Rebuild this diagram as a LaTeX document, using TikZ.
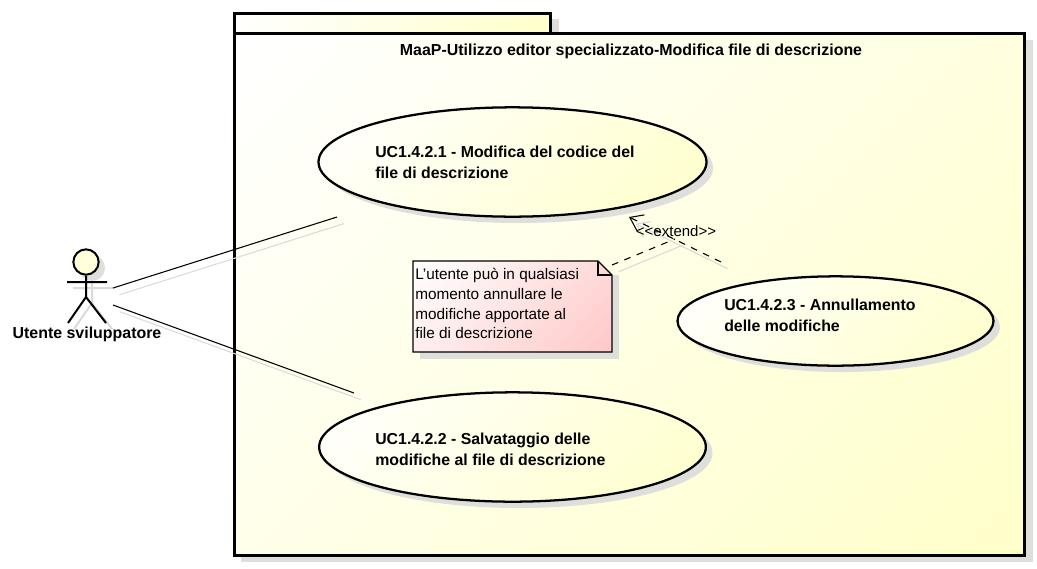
\documentclass[tikz,border=0pt]{standalone}
\usepackage{fontspec}
\setmainfont{Liberation Sans}
\usetikzlibrary{shadows}
\usetikzlibrary{shapes.geometric, arrows.meta, positioning}

\definecolor{paleyellow}{HTML}{FFFFCA}
\definecolor{palepink}{HTML}{FFC8C8}
\definecolor{shadowgrey}{HTML}{DEDEDA}
\definecolor{lineshadow}{HTML}{DADADA}

\pgfdeclareverticalshading{yellowfade}{100bp}{color(0bp)=(paleyellow); color(15bp)=(paleyellow); color(85bp)=(white); color(100bp)=(white)}
\pgfdeclareverticalshading{pinkfade}{100bp}{color(0bp)=(palepink); color(15bp)=(palepink); color(85bp)=(white); color(100bp)=(white)}

\tikzset{
	boxfill/.style={line width=2.25pt, shading=yellowfade, shading angle=45},
	boxshadow/.style={fill=shadowgrey, draw=none},
	usecase/.style={draw, ellipse, line width=1.7pt, shading=yellowfade, shading angle=45, inner sep=0pt},
	uclabel/.style={anchor=west, align=left, font=\fontsize{11.9}{15.5}\selectfont\bfseries, inner sep=0pt},
	notelabel/.style={anchor=north west, align=left, font=\fontsize{11.5}{14.8}\selectfont, inner sep=0pt},
	titlelabel/.style={font=\fontsize{11.95}{14}\selectfont\bfseries},
	assoc/.style={line width=0.8pt},
	assocshadow/.style={line width=0.8pt, draw=lineshadow, transform canvas={xshift=5pt, yshift=-5pt}},
	limb/.style={line width=1.5pt},
	limbshadow/.style={line width=1.5pt, draw=lineshadow, transform canvas={xshift=4.5pt, yshift=-4.5pt}},
	dep/.style={line width=0.8pt, dash pattern=on 5pt off 5pt},
	openhead/.style={-{Straight Barb[length=9pt, width=13pt]}}
}

\begin{document}
\begin{tikzpicture}[x=0.75pt, y=-0.75pt]
	\useasboundingbox (0,0) rectangle (1037,568);

	% Package frame and its tab
	\fill[boxshadow] (242,19) rectangle (559,40);
	\fill[boxshadow] (241,40) rectangle (1033,562);
	\draw[boxfill] (234.5,13.5) rectangle (550.5,33.5);
	\draw[boxfill] (234.5,33.5) rectangle (1024.5,555.5);
	\node[titlelabel] (title) at (631,51) {MaaP-Utilizzo editor specializzato-Modifica file di descrizione};

	% Use cases
	\fill[boxshadow] (519,168) ellipse (194 and 55);
	\fill[boxshadow] (519,453) ellipse (193.5 and 55);
	\fill[boxshadow] (842,327) ellipse (158 and 45);
	\node[usecase, minimum width=291pt, minimum height=82pt] (UCa) at (512.5,162) {};
	\node[usecase, minimum width=290pt, minimum height=82pt] (UCb) at (512.5,447) {};
	\node[usecase, minimum width=237pt, minimum height=67pt] (UCc) at (835.5,321) {};
	\node[uclabel] (UCatext) at (375,162) {UC1.4.2.1 - Modifica del codice del\\file di descrizione};
	\node[uclabel] (UCbtext) at (375,449) {UC1.4.2.2 - Salvataggio delle\\modifiche al file di descrizione};
	\node[uclabel] (UCctext) at (724,315) {UC1.4.2.3 - Annullamento\\delle modifiche};

	% Actor
	\coordinate (neck) at (86,275);
	\coordinate (hip) at (86,297);
	\coordinate (armL) at (67,282);
	\coordinate (armR) at (107,282);
	\coordinate (legL) at (68,323);
	\coordinate (legR) at (106,323);
	\fill[boxshadow] (92,268) circle (13);
	\draw[limbshadow] (neck) -- (hip) (armL) -- (armR) (legL) -- (hip) -- (legR);
	\node[draw, circle, limb, fill=paleyellow!70!white, minimum size=19pt, inner sep=0pt] (head) at (86,262) {};
	\draw[limb] (head) -- (hip) (armL) -- (armR) (legL) -- (hip) -- (legR);
	\node[titlelabel] (actor) at (87,334) {Utente sviluppatore};

	% Associations
	\coordinate (actorA) at (113,288);
	\coordinate (actorB) at (113,305);
	\coordinate (endA) at (337,217);
	\coordinate (endB) at (354,393);
	\draw[assocshadow] (actorA) -- (endA);
	\draw[assocshadow] (actorB) -- (endB);
	\draw[assoc] (actorA) -- (endA);
	\draw[assoc] (actorB) -- (endB);

	% Note
	\coordinate (noteNW) at (413,261);
	\coordinate (noteSE) at (612,352);
	\coordinate (foldA) at (598,261);
	\coordinate (foldB) at (612,275);
	\fill[boxshadow] (420,275) -- (619,275) -- (619,359) -- (420,359) -- cycle;
	\draw[assoc, shading=pinkfade, shading angle=45] (noteNW) -- (foldA) -- (foldB) -- (noteSE) -- (413,352) -- cycle;
	\draw[assoc] (foldA) -- (598,275) -- (foldB);
	\node[notelabel] (notetext) at (415,268) {L'utente può in qualsiasi\\momento annullare le\\modifiche apportate al\\file di descrizione};

	% Extend dependency and note link
	\coordinate (extStart) at (721,262);
	\coordinate (extTip) at (629,217);
	\coordinate (linkStart) at (612,265);
	\coordinate (linkEnd) at (675,239);
	\draw[assocshadow, openhead] (extStart) -- (extTip);
	\draw[assocshadow] (linkStart) -- (linkEnd);
	\draw[dep, openhead] (extStart) -- (extTip);
	\draw[dep] (linkStart) -- (linkEnd);
	\node[font=\fontsize{11.25}{13}\selectfont] (extlabel) at (676,231) {<{}<extend>{}>};
\end{tikzpicture}
\end{document}
